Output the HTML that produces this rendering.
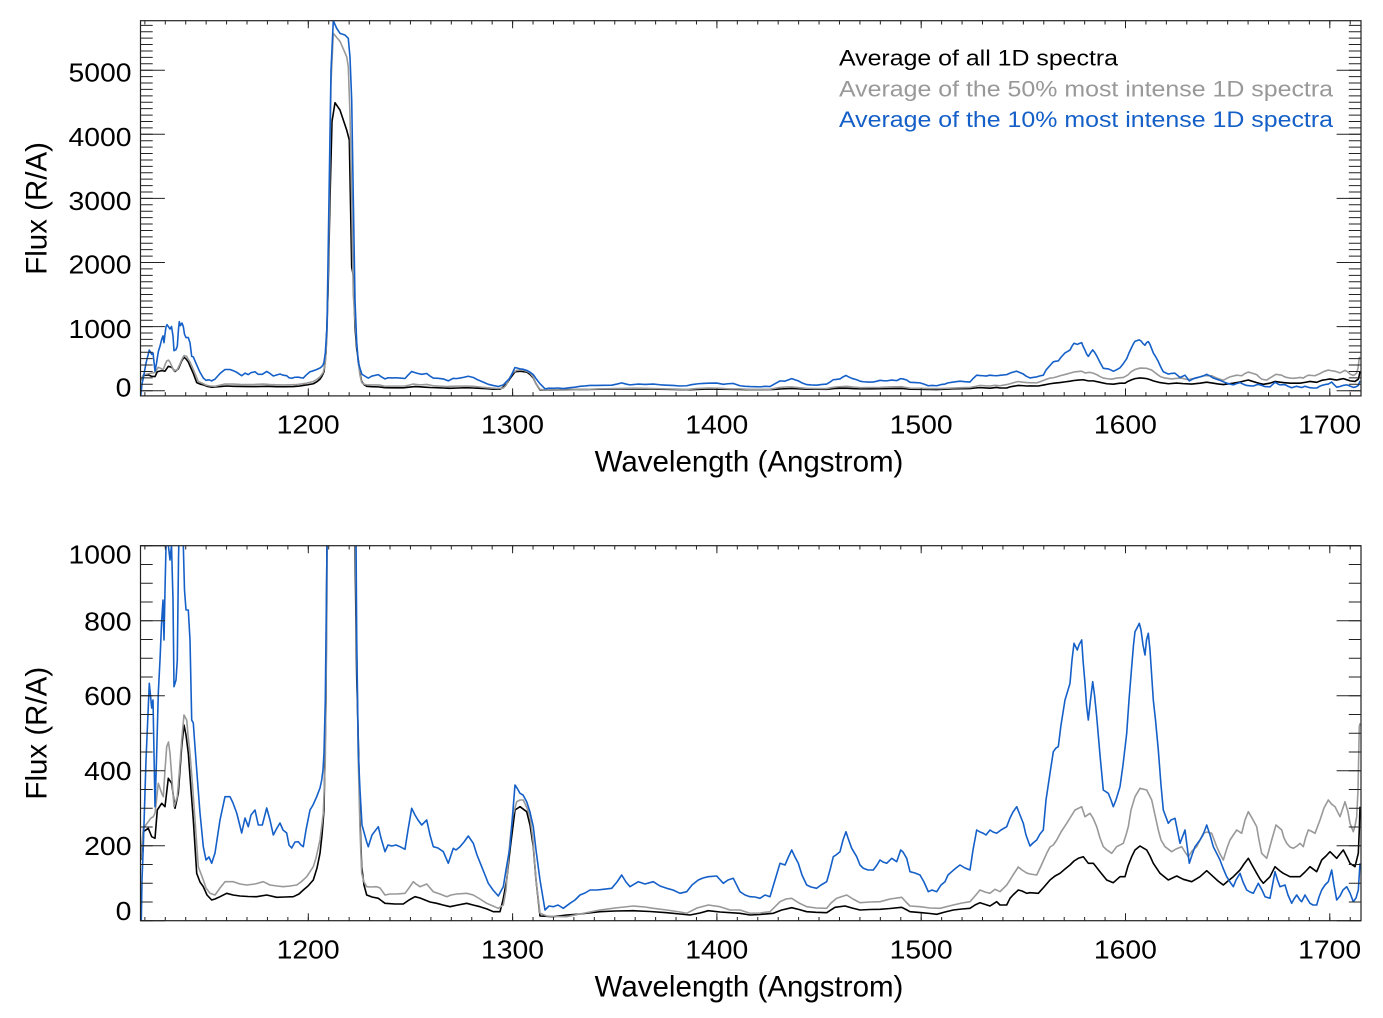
<!DOCTYPE html>
<html>
<head>
<meta charset="utf-8">
<style>
html,body{margin:0;padding:0;background:#fff;}
svg{display:block;}
text{font-family:"Liberation Sans",Arial,Helvetica,sans-serif;}
</style>
</head>
<body>
<svg width="1383" height="1018" viewBox="0 0 1383 1018" xmlns="http://www.w3.org/2000/svg">
<defs>
<clipPath id="cT"><rect x="140.5" y="20.7" width="1220.5" height="375.2"/></clipPath>
<clipPath id="cB"><rect x="140.5" y="545.7" width="1220.5" height="375"/></clipPath>
<polyline id="sk" fill="none" stroke="#000" stroke-width="1.6" vector-effect="non-scaling-stroke" stroke-linejoin="round" points="140.7,860 143.3,831.7 148.3,828.3 151.7,836.7 155,838.3 157.3,810 161.7,803.3 165,806.7 168.3,778.3 171.7,783.3 175,808.3 178.3,793.3 181.7,746.7 184,725 186,735 188.3,753.3 191,790 193.3,820 196.7,873.3 200,882 203.3,886.7 207,895 211.7,900 215,899 220,896.7 226.7,893.3 233,895 240,896 248,896.5 256.7,896.7 266.7,895 276.7,897.3 285,897 293.3,896.7 299,894 303.3,890 308,886 313.3,880 317,868 320,853.3 322,835 324,810 326,700 328,358 330,-204 332,-654 335,-764 340,-721 346.7,-604 349.3,-546 351.7,198 353.3,246 355,546 356.7,677 358.3,740 360,820 361.7,866.7 364,885 366.7,895 372,897 378.3,898.3 385,903.3 395,904 403.3,904 409,900 415,896.7 420,898 425,900 430,902 436.7,903.3 443,905 450,906.7 458,905 466.7,903.3 473,905 480,906.7 487,909 493.3,911.7 500,911.7 503,900 506.7,880 510,850 515,810 520,806.7 526.7,811.7 530,825 533.3,846.7 536,880 540,916 553.3,916.7 566.7,915 580,914 600,911.7 615,911 633.3,910.7 650,911.5 666.7,912.7 680,914 690,915 700,913 708.3,910.7 720,912 740,913.3 750,915 760,914.5 773.3,913.3 781.7,910 791.7,907.7 799,909.5 806.7,911.7 816,912.3 826.7,912.7 835,907.3 845,906 852,908 860,910 870,909.5 880,909.3 890,908.5 901.7,907.3 906,909.5 910,911.7 921.7,912.7 930,913.5 936.7,914.3 945,912 953.3,910 962,909 970,908.3 975,905 980,902.7 990,906 996.7,901.7 1000,905 1006.7,905 1010,898.3 1013,895 1018.3,890 1022,891 1026.7,893.3 1030,892.7 1038.3,893.3 1044,887 1050,880 1055,876 1060,873.3 1065,869 1070,865 1074,861 1078.3,858.3 1083.3,856.7 1088.3,863.3 1093.3,863.3 1100,871.7 1106.7,880 1113.3,882.7 1120,876.7 1125,876.7 1128,866 1131.7,856.7 1135,850 1140,846 1146.7,850 1150,856 1153.3,863.3 1160,873.3 1168.3,880 1176.7,876 1183.3,879.3 1191.7,881.7 1200,876.7 1206.7,870.7 1213.3,876.7 1218,881 1223.3,885 1228,881 1233.3,876.7 1240,870 1244,864 1248.3,858.3 1252,865 1256.7,873.3 1260,879 1263.3,883.3 1270,876.7 1275,866.7 1280,871 1283.3,873.3 1290,876.7 1300,876.7 1305,872 1310,866.7 1316.7,871.7 1321.7,860 1326,856 1330,851.7 1336.7,858.3 1340,854 1343.3,850 1347,857 1350,863.3 1355,866.7 1358.3,853.3 1359.3,830 1360,806.7"/>
<polyline id="sg" fill="none" stroke="#999" stroke-width="1.6" vector-effect="non-scaling-stroke" stroke-linejoin="round" points="140.7,858 143.3,828.3 148.3,821.7 151,818 153.3,816.7 155,813.3 156.5,800 158.3,783.3 161.7,793.3 163.3,796.7 165,770 166.7,746.7 168.5,742 170,753.3 172,780 174,806.7 177.3,796.7 179.5,770 181.7,740 184,715 186.7,720 188,735 190,753.3 192.5,785 195,820 198.3,866.7 203.3,880 206,888 210,893.3 215,895 220,888 225,881.7 233.3,881.7 240,884 246.7,885 255,884 263.3,881.7 270,885 277,886 283.3,886.7 290,886 296.7,885 301,882 306.7,876.7 313.3,866.7 316,858 320,840 323.3,813.3 325.3,760 327,600 329,-17 331,-879 333.3,-1170 340,-1123 346.7,-1033 348.3,-975 350,-692 351.7,-204 353.3,358 355,508 356.7,651 358.3,760 360,830 361.7,873.3 364,882 366.7,886.7 370,887 376.7,886.7 380,888 385,895 390,894 396.7,894 405,893.3 409,888 413.3,881.7 416,884 420,886.7 426.7,884 433.3,891.7 440,894 446.7,896.7 451,895 456.7,894 466.7,893.3 473.3,895 480,899 486.7,903.3 493,906 498.3,908.3 503.3,905 506,890 510,840 513,815 516.7,801.7 520,800 523.3,800 527,808 530,816.7 533,840 536,880 540,913.3 546.7,916 555,916.5 566.7,916.7 580,914 600,910 615,908 633.3,906 645,907 653.3,908.3 666.7,910 680,912 686.7,913.3 697,908 708.3,905 720,906.7 730,910 740,910 750,913.3 760,913 770,911.7 780,901.7 786,899 791.7,898.3 799,903 806.7,906.7 816,908 826.7,908.3 831,903 836.7,898.3 846.7,895 853,899 860,902.7 870,902 880,901.7 890,899 901.7,897.3 906,902 910,906 920,906.7 930,908 940,908.3 953.3,905 962,903 970,901.7 975,896 980,890 985,892 990,893.3 995,889.3 1000,891.7 1006.7,885 1010,880 1013,875 1018.3,867 1022,870 1026.7,873 1030,874 1036.7,875 1041,866 1046.7,853.3 1050,847 1053.3,845 1056.7,840 1061,832 1066.7,823.3 1070,818 1075,810 1081.7,806.7 1085,816.7 1090,813.3 1093,818 1096.7,826.7 1100,838 1103.3,846.7 1107,850 1111.7,853.3 1116.7,846.7 1123.3,843.3 1126,835 1128.3,826.7 1131,810 1135,796.7 1140,788.3 1146.7,790 1151.7,800 1155,815 1158.3,830 1161,840 1165,846.7 1171.7,851.7 1176,849 1181.7,846.7 1185,852 1188.3,856.7 1192,851 1196.7,846.7 1200,840 1203.3,833.3 1207,832 1211.7,833.3 1216.7,846.7 1220,854 1223.3,860 1227,848 1230,840 1236.7,830 1241.7,833.3 1245,820 1248.3,811.7 1252,818 1256.7,826.7 1259,840 1261.7,853.3 1266.7,858.3 1269,850 1271.7,840 1276,825 1281.7,830 1284,838 1286.7,843.3 1290,847 1293.3,848.3 1297,846 1300,843.3 1303.3,846.7 1305.5,838 1308.3,830 1311,831 1315,833.3 1320,820 1324,808 1328.3,800 1331.5,804 1335,806.7 1340,816.7 1345,801.7 1348,812 1350,823.3 1353.3,831.7 1355,826 1356.7,816.7 1358,790 1359.3,726.7 1360,723.3"/>
<polyline id="sb" fill="none" stroke="#1560c8" stroke-width="1.6" vector-effect="non-scaling-stroke" stroke-linejoin="round" points="140.7,955 142,880 143.3,846.7 146,760 149.3,683.3 151.7,708 153,700 155,806.7 156.5,760 158.3,693 160,660 161.7,620 163,600 164,640 165,590 166,546.7 167,535 168.3,545 170,560 171.5,545 173,600 174,686.7 176,680 177.3,660 178.5,560 179.3,517 180.5,540 182,525 183.3,545 184.5,590 186,610 188.3,610 190,640 191.7,720 193.3,723 194.5,740 196.7,770 200,813 203.3,846.7 206,860 209,857 211.7,863.3 215,853 220,820 225,796.7 230,796.7 233,803 236.7,813 241.7,833 245,818 248.3,826.7 251,815 255,810 258.3,825 262.3,825 266.7,808 270,820 273.3,835 277,828 280,823 283,830 286.7,833 289,845 291.7,848 295,842 298.3,841.7 301,845 303.3,846.7 306,830 310,810 313,805 316.7,796.7 320,788 321.7,780 323,770 324,753 325.3,700 327,545.7 329,-204 331,-954 333.3,-1244 336.7,-1199 340,-1170 345,-1160 348.3,-1141 350,-1029 351.7,-780 353.3,-204 355,392 356.7,637 358.3,753 360,790 362,825 366.7,842 368.3,846.7 372,835 378.3,826.7 381,838 385,851.7 388,845 391.7,846 396,845 400,846.7 405,849.3 408,830 411.7,808.3 415,815 418,820 421.7,825 426.7,820 430,835 433.3,846.7 438,848 443.3,851.7 448.3,863.3 453.3,848.3 456,850 460,846.7 464,842 468.3,836 473.3,843.3 477,855 481.7,866.7 485,875 488.3,883.3 493,890 498.3,896 503.3,886.7 506,870 510,846.7 513,810 515,785 517,788 520,793.3 523,795 526.7,801.7 530,812 533.3,826.7 536,850 540,880 545,910 549,906 553.3,906.7 558,905 563.3,908.3 570,903.3 575,900 580,895 585,893 590,890 597,890 603.3,889.3 611.7,888.3 617,882 621.7,875 626,882 630,886.7 638.3,881.7 645,884 653.3,881.7 660,886 666.7,888.3 673,890 680,893.3 686.7,891.7 692,885 698.3,880 703,878 708.3,876.7 716.7,876 723.3,883.3 728,880 733.3,878.3 740,891.7 745,895 750,896.7 755,897 760,898.3 765,895 770,896.7 775,880 780,863.3 785,865 788,858 791.7,850 795,857 798.3,863.3 802,875 806.7,885 811,887 816.7,888.3 821,885 826.7,881.7 830,870 833.3,856.7 836,855 840,851.7 843,840 846,831.7 848,838 851.7,848.3 856.7,856.7 860,865 863.3,868.3 868,870 873.3,870 877,865 880,860 883,862 886.7,863.3 891.7,858.3 896.7,861.7 900.7,850 903,852 906.7,858.3 910,871.7 915,873 920,875 924,882 928.3,891.7 932,890 936.7,891.7 941,885 945,881.7 948,875 951.7,871.7 956,868 960,865 965,868 970,870 973,850 976.7,830 980,832 983.3,833.3 986,835 990,830 993,832 996.7,833.3 1001,830 1006.7,826.7 1010,818 1013,812 1016.7,806.7 1020,815 1023.3,823.3 1026,835 1030,846 1033,843 1036.7,840 1040,834 1043.3,830 1046,800 1050,773.3 1053.3,751.7 1056,748 1058.3,746.7 1061,725 1065,700 1070,683.3 1072,660 1074,643.3 1077.3,650 1079,645 1081.7,640 1083,660 1085,683.3 1086.5,705 1088.3,720 1090.5,700 1092.7,681.7 1094.5,695 1096.7,716.7 1100,755 1103.3,790 1108.3,793.3 1111,800 1113.3,806.7 1116,800 1120,786.7 1123,765 1126.7,733.3 1129,700 1131.7,666.7 1133.5,645 1135,631.7 1137,628 1139.3,623.3 1141,630 1143,645 1145,655 1146.5,640 1148.3,633.3 1150,650 1153.3,700 1155.5,720 1158.3,750 1161,785 1163.3,810 1168.3,823.3 1171,820 1175,818.3 1180,843.3 1185,830 1189.3,863.3 1192,855 1195,846.7 1200,840 1203,835 1206.7,825 1210,835 1213.3,846.7 1216,852 1220,860 1223,868 1226.7,876.7 1230,882 1233.3,886.7 1236,880 1240,873.3 1243,882 1246.7,890 1250,892 1253.3,893.3 1258.3,883.3 1262,890 1265,896.7 1270,898.3 1272.5,885 1275,871.7 1277.5,880 1280,886.7 1285,885 1288,895 1291.7,903.3 1294,899 1296.7,895 1300,900 1301.7,901.7 1305,895 1310,903.3 1313,905 1316.7,905 1319,897 1321.7,890 1325,885 1328.3,881.7 1331.7,870 1334,885 1336.7,900 1340,896 1343,890 1346.7,886.7 1350,893 1353.3,901.7 1356,898 1358.3,890 1360,863.3"/>
</defs>

<!-- ===== TOP PANEL ===== -->
<g clip-path="url(#cT)">
  <g transform="matrix(1 0 0 0.17093 0 233.32)">
    <use href="#sk"/>
    <use href="#sg"/>
    <use href="#sb"/>
  </g>
</g>
<g stroke="#222" fill="none">
  <rect x="140.5" y="20.7" width="1220.5" height="375.2" stroke-width="1.2"/>
  <!-- x minor ticks -->
  <line x1="144.36" y1="394.03" x2="1361" y2="394.03" stroke-width="3.75" stroke-dasharray="1 19.43"/>
  <line x1="144.36" y1="22.58" x2="1361" y2="22.58" stroke-width="3.75" stroke-dasharray="1 19.43"/>
  <!-- x major ticks -->
  <path stroke-width="1" d="M308.3 395.9v-7.5M512.6 395.9v-7.5M716.9 395.9v-7.5M921.2 395.9v-7.5M1125.5 395.9v-7.5M1329.8 395.9v-7.5M308.3 20.7v7.5M512.6 20.7v7.5M716.9 20.7v7.5M921.2 20.7v7.5M1125.5 20.7v7.5M1329.8 20.7v7.5"/>
  <!-- y minor ticks -->
  <line x1="146.6" y1="391.2" x2="146.6" y2="20.7" stroke-width="12.2" stroke-dasharray="1 5.41"/>
  <line x1="1354.9" y1="391.2" x2="1354.9" y2="20.7" stroke-width="12.2" stroke-dasharray="1 5.41"/>
  <!-- y major ticks -->
  <path stroke-width="1" d="M140.5 390.7h24.4M140.5 326.6h24.4M140.5 262.5h24.4M140.5 198.4h24.4M140.5 134.3h24.4M140.5 70.2h24.4M1361 390.7h-24.4M1361 326.6h-24.4M1361 262.5h-24.4M1361 198.4h-24.4M1361 134.3h-24.4M1361 70.2h-24.4"/>
</g>
<g fill="#000" font-size="25.5">
  <text x="68.5" y="81.7" textLength="63" lengthAdjust="spacingAndGlyphs">5000</text>
  <text x="68.5" y="146" textLength="63" lengthAdjust="spacingAndGlyphs">4000</text>
  <text x="68.5" y="210" textLength="63" lengthAdjust="spacingAndGlyphs">3000</text>
  <text x="68.5" y="273.5" textLength="63" lengthAdjust="spacingAndGlyphs">2000</text>
  <text x="68.5" y="337.9" textLength="63" lengthAdjust="spacingAndGlyphs">1000</text>
  <text x="115.7" y="396.7" textLength="15.8" lengthAdjust="spacingAndGlyphs">0</text>
  <text x="276.7" y="433.3" textLength="63" lengthAdjust="spacingAndGlyphs">1200</text>
  <text x="481" y="433.3" textLength="63" lengthAdjust="spacingAndGlyphs">1300</text>
  <text x="685.3" y="433.3" textLength="63" lengthAdjust="spacingAndGlyphs">1400</text>
  <text x="889.6" y="433.3" textLength="63" lengthAdjust="spacingAndGlyphs">1500</text>
  <text x="1093.9" y="433.3" textLength="63" lengthAdjust="spacingAndGlyphs">1600</text>
  <text x="1298.2" y="433.3" textLength="63" lengthAdjust="spacingAndGlyphs">1700</text>
</g>
<text x="749" y="471.7" font-size="29.5" text-anchor="middle" fill="#000">Wavelength (Angstrom)</text>
<text transform="translate(46.5,208.4) rotate(-90)" x="0" y="0" font-size="29.5" text-anchor="middle" fill="#000">Flux (R/A)</text>

<!-- legend -->
<g font-size="22">
  <text x="839" y="65.7" fill="#000" textLength="279" lengthAdjust="spacingAndGlyphs">Average of all 1D spectra</text>
  <text x="839" y="96.7" fill="#999" textLength="494" lengthAdjust="spacingAndGlyphs">Average of the 50% most intense 1D spectra</text>
  <text x="839" y="127" fill="#1560c8" textLength="494" lengthAdjust="spacingAndGlyphs">Average of the 10% most intense 1D spectra</text>
</g>

<!-- ===== BOTTOM PANEL ===== -->
<g clip-path="url(#cB)">
  <use href="#sk"/>
  <use href="#sg"/>
  <use href="#sb"/>
</g>
<g stroke="#222" fill="none">
  <rect x="140.5" y="545.7" width="1220.5" height="375" stroke-width="1.2"/>
  <line x1="144.36" y1="918.83" x2="1361" y2="918.83" stroke-width="3.75" stroke-dasharray="1 19.43"/>
  <line x1="144.36" y1="547.58" x2="1361" y2="547.58" stroke-width="3.75" stroke-dasharray="1 19.43"/>
  <path stroke-width="1" d="M308.3 920.7v-7.5M512.6 920.7v-7.5M716.9 920.7v-7.5M921.2 920.7v-7.5M1125.5 920.7v-7.5M1329.8 920.7v-7.5M308.3 545.7v7.5M512.6 545.7v7.5M716.9 545.7v7.5M921.2 545.7v7.5M1125.5 545.7v7.5M1329.8 545.7v7.5"/>
  <line x1="146.6" y1="921.2" x2="146.6" y2="545.2" stroke-width="12.2" stroke-dasharray="1 17.75"/>
  <line x1="1354.9" y1="921.2" x2="1354.9" y2="545.2" stroke-width="12.2" stroke-dasharray="1 17.75"/>
  <path stroke-width="1" d="M140.5 920.7h24.4M140.5 845.7h24.4M140.5 770.7h24.4M140.5 695.7h24.4M140.5 620.7h24.4M140.5 545.7h24.4M1361 920.7h-24.4M1361 845.7h-24.4M1361 770.7h-24.4M1361 695.7h-24.4M1361 620.7h-24.4M1361 545.7h-24.4"/>
</g>
<g fill="#000" font-size="25.5">
  <text x="68.5" y="563.3" textLength="63" lengthAdjust="spacingAndGlyphs">1000</text>
  <text x="84.1" y="630.7" textLength="47.4" lengthAdjust="spacingAndGlyphs">800</text>
  <text x="84.1" y="705" textLength="47.4" lengthAdjust="spacingAndGlyphs">600</text>
  <text x="84.1" y="780" textLength="47.4" lengthAdjust="spacingAndGlyphs">400</text>
  <text x="84.1" y="855" textLength="47.4" lengthAdjust="spacingAndGlyphs">200</text>
  <text x="115.7" y="920" textLength="15.8" lengthAdjust="spacingAndGlyphs">0</text>
  <text x="276.7" y="958.3" textLength="63" lengthAdjust="spacingAndGlyphs">1200</text>
  <text x="481" y="958.3" textLength="63" lengthAdjust="spacingAndGlyphs">1300</text>
  <text x="685.3" y="958.3" textLength="63" lengthAdjust="spacingAndGlyphs">1400</text>
  <text x="889.6" y="958.3" textLength="63" lengthAdjust="spacingAndGlyphs">1500</text>
  <text x="1093.9" y="958.3" textLength="63" lengthAdjust="spacingAndGlyphs">1600</text>
  <text x="1298.2" y="958.3" textLength="63" lengthAdjust="spacingAndGlyphs">1700</text>
</g>
<text x="749" y="996.7" font-size="29.5" text-anchor="middle" fill="#000">Wavelength (Angstrom)</text>
<text transform="translate(46.5,733.2) rotate(-90)" x="0" y="0" font-size="29.5" text-anchor="middle" fill="#000">Flux (R/A)</text>
</svg>
</body>
</html>
